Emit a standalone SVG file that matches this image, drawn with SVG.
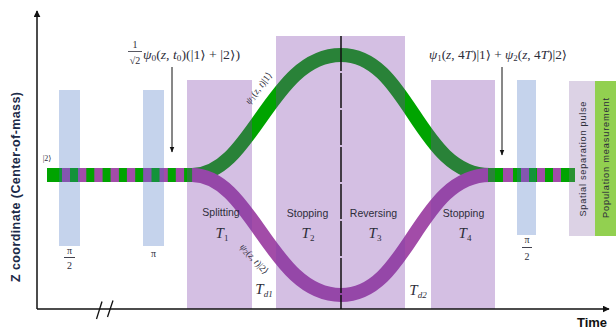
<svg xmlns="http://www.w3.org/2000/svg" width="616" height="329" viewBox="0 0 616 329">
<defs>
<style>
.lbl{font-family:"Liberation Sans","DejaVu Sans",sans-serif;fill:#2d2d3a;}
.math{font-family:"Liberation Serif","DejaVu Serif",serif;fill:#2d2d3a;}
.it{font-style:italic;}
.lav{fill:#7b3ea9;fill-opacity:0.33;}
.blue{fill:#3e6cc0;fill-opacity:0.3;}
.ax{stroke:#111;stroke-width:1.5;fill:none;}
.arr{stroke:#111;stroke-width:1;fill:none;}
.g{fill:#00a400;}
.p{fill:#a24ca8;}
</style>
<marker id="ah" viewBox="0 0 10 10" refX="9" refY="5" markerWidth="7" markerHeight="7" markerUnits="userSpaceOnUse" orient="auto">
<path d="M0,0 L10,5 L0,10 Z" fill="#111"/>
</marker>
<marker id="ahs" viewBox="0 0 10 10" refX="9" refY="5" markerWidth="6" markerHeight="6" markerUnits="userSpaceOnUse" orient="auto">
<path d="M0,1 L10,5 L0,9 Z" fill="#111"/>
</marker>
</defs>
<rect width="616" height="329" fill="#fff"/>

<g id="beam">
<path d="M192,175 C252,175 271,55 341,55 C409,55 418,175 490,175" stroke="#00a400" stroke-width="14" fill="none"/>
<path d="M192,175 C252,175 271,295 341,295 C409,295 418,175 490,175" stroke="#a24ca8" stroke-width="14" fill="none"/>
<rect class="p" x="47" y="168" width="146" height="14"/>
<rect class="g" x="47" y="168" width="15" height="14"/>
<line x1="70" y1="175" x2="192.2" y2="175" stroke="#00a400" stroke-width="14" stroke-dasharray="8 8.3"/>
<rect class="p" x="488" y="168" width="87" height="14"/>
<rect class="g" x="488" y="168" width="15" height="14"/>
<line x1="513" y1="175" x2="553" y2="175" stroke="#00a400" stroke-width="14" stroke-dasharray="8 8"/>
<rect class="g" x="561" y="168" width="14" height="14"/>
</g>

<g id="pulse-pi2-a"><rect class="blue" x="59" y="90" width="21" height="156"/>
<text class="math" x="69.5" y="254" font-size="10" text-anchor="middle">π</text>
<line x1="64" y1="257.5" x2="75" y2="257.5" stroke="#2d2d3a" stroke-width="0.9"/>
<text class="math" x="69.5" y="269" font-size="10" text-anchor="middle">2</text></g>
<g id="pulse-pi"><rect class="blue" x="143" y="90" width="21" height="156"/>
<text class="math" x="153.5" y="257" font-size="10" text-anchor="middle">π</text></g>
<g id="splitting"><rect class="lav" x="187" y="80" width="65" height="229"/>
<text class="lbl" x="221" y="216" font-size="10.5" text-anchor="middle">Splitting</text>
<text class="math it" x="222" y="238" font-size="15" text-anchor="middle">T<tspan font-size="9" font-style="normal" dy="3">1</tspan></text></g>
<g id="stopping2"><rect class="lav" x="276" y="36" width="65" height="273"/>
<text class="lbl" x="307.5" y="217" font-size="10.5" text-anchor="middle">Stopping</text>
<text class="math it" x="308" y="238" font-size="15" text-anchor="middle">T<tspan font-size="9" font-style="normal" dy="3">2</tspan></text></g>
<g id="reversing"><rect class="lav" x="341" y="36" width="64" height="273"/>
<text class="lbl" x="373.5" y="217" font-size="10.5" text-anchor="middle">Reversing</text>
<text class="math it" x="375" y="238" font-size="15" text-anchor="middle">T<tspan font-size="9" font-style="normal" dy="3">3</tspan></text></g>
<g id="stopping4"><rect class="lav" x="431" y="80" width="64" height="229"/>
<text class="lbl" x="463.5" y="217" font-size="10.5" text-anchor="middle">Stopping</text>
<text class="math it" x="465" y="238" font-size="15" text-anchor="middle">T<tspan font-size="9" font-style="normal" dy="3">4</tspan></text></g>
<g id="pulse-pi2-b"><rect class="blue" x="517" y="80" width="19" height="155"/>
<text class="math" x="527" y="243" font-size="10" text-anchor="middle">π</text>
<line x1="522" y1="247.5" x2="532" y2="247.5" stroke="#2d2d3a" stroke-width="0.9"/>
<text class="math" x="527" y="260" font-size="10" text-anchor="middle">2</text></g>
<g id="separation"><rect x="569" y="81" width="26" height="155" fill="#8a6aa8" fill-opacity="0.3"/>
<text class="lbl" transform="translate(585.5,159) rotate(-90)" font-size="9.2" text-anchor="middle" textLength="115">Spatial separation pulse</text></g>
<g id="measurement"><rect x="595" y="81" width="21" height="155" fill="#92d050"/>
<text class="lbl" transform="translate(608.5,158) rotate(-90)" font-size="9.2" text-anchor="middle" textLength="120">Population measurement</text></g>

<g id="connectors">
<line x1="341" y1="36" x2="341" y2="309" stroke="#111" stroke-width="1.5" stroke-dasharray="35 2"/>
<line class="ax" x1="37" y1="309" x2="37" y2="11" marker-end="url(#ah)"/>
<line class="ax" x1="37" y1="309" x2="609" y2="309" marker-end="url(#ah)"/>
<line x1="96.5" y1="319" x2="102" y2="301.5" stroke="#111" stroke-width="1.3"/>
<line x1="107.5" y1="317" x2="113" y2="300.5" stroke="#111" stroke-width="1.3"/>
<line class="arr" x1="172" y1="67" x2="172" y2="152" marker-end="url(#ahs)"/>
<line class="arr" x1="502" y1="67" x2="502" y2="155" marker-end="url(#ahs)"/>
</g>

<g id="labels">
<text class="lbl" transform="translate(20,187) rotate(-90)" font-size="12.5" font-weight="bold" style="fill:#1c2a48" text-anchor="middle" textLength="190">Z coordinate (Center-of-mass)</text>
<text class="lbl" x="592" y="327" font-size="13" font-weight="bold" text-anchor="middle" style="fill:#111">Time</text>
<text class="math" x="47" y="161" font-size="8" text-anchor="middle">|2⟩</text>
<text class="math" x="135" y="48" font-size="10" text-anchor="middle">1</text>
<line x1="128" y1="51.5" x2="142" y2="51.5" stroke="#2d2d3a" stroke-width="0.8"/>
<text class="math" x="135" y="64" font-size="10" text-anchor="middle">√2</text>
<text class="math" x="143" y="59" font-size="12" textLength="97" lengthAdjust="spacingAndGlyphs"><tspan class="it">ψ</tspan><tspan font-size="8" dy="2">0</tspan><tspan dy="-2">(</tspan><tspan class="it">z</tspan>, <tspan class="it">t</tspan><tspan font-size="8" dy="2">0</tspan><tspan dy="-2">)(|1⟩ + |2⟩)</tspan></text>
<text class="math" x="429" y="59" font-size="12" textLength="138" lengthAdjust="spacingAndGlyphs"><tspan class="it">ψ</tspan><tspan font-size="8" dy="2">1</tspan><tspan dy="-2">(</tspan><tspan class="it">z</tspan>, 4<tspan class="it">T</tspan>)|1⟩ + <tspan class="it">ψ</tspan><tspan font-size="8" dy="2">2</tspan><tspan dy="-2">(</tspan><tspan class="it">z</tspan>, 4<tspan class="it">T</tspan>)|2⟩</text>
<text class="math" transform="translate(261,90) rotate(-52)" font-size="9.5" text-anchor="middle"><tspan class="it">ψ</tspan><tspan font-size="7" dy="1.5">1</tspan><tspan dy="-1.5">(</tspan><tspan class="it">z</tspan>, <tspan class="it">t</tspan>)|1⟩</text>
<text class="math" transform="translate(252,261) rotate(48)" font-size="9.5" text-anchor="middle"><tspan class="it">ψ</tspan><tspan font-size="7" dy="1.5">2</tspan><tspan dy="-1.5">(</tspan><tspan class="it">z</tspan>, <tspan class="it">t</tspan>)|2⟩</text>
<text class="math it" x="264" y="294" font-size="15" text-anchor="middle">T<tspan font-size="9" dy="3">d1</tspan></text>
<text class="math it" x="418" y="295" font-size="15" text-anchor="middle">T<tspan font-size="9" dy="3">d2</tspan></text>
</g>
</svg>
